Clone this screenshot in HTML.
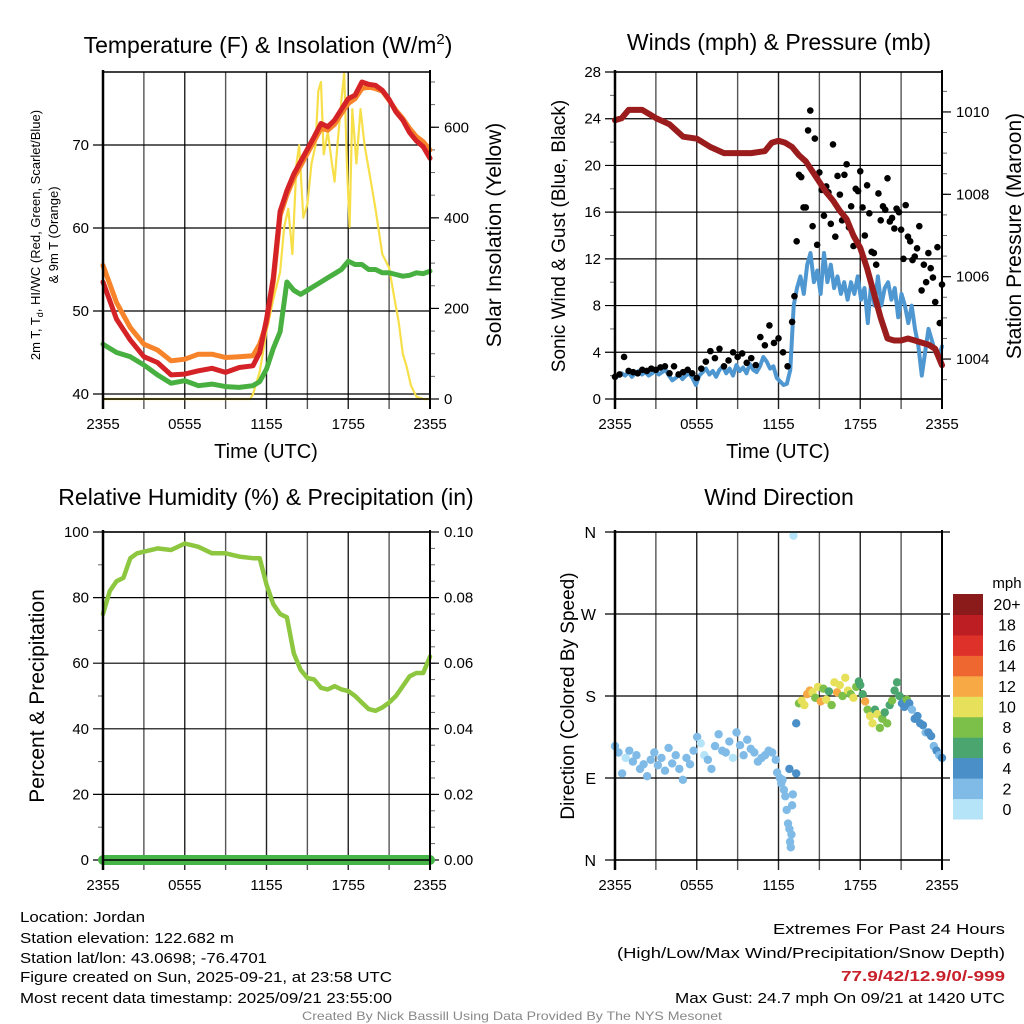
<!DOCTYPE html>
<html><head><meta charset="utf-8"><style>
html,body{margin:0;padding:0;background:#fff;}
svg{display:block;font-family:"Liberation Sans",sans-serif;}
</style></head><body>
<svg id="fig" width="1024" height="1024" viewBox="0 0 1024 1024" xmlns="http://www.w3.org/2000/svg"></svg>
<script>
// ---------- data ----------
const timeLabels = ["2355","0555","1155","1755","2355"];
const tempRedT = [0,1,2,3,4,5,6,7,8,9,10,11,11.5,12,12.5,13,13.5,14,14.5,15,15.5,16,16.5,17,17.5,18,18.5,19,19.5,20,20.5,21,21.5,22,22.5,23,23.5,24];
const tempRed = [53.5,49,46.5,44.5,43.8,42.3,42.4,42.8,43.1,42.6,43.2,43.4,45,49,54,62,64.5,66.5,68,69.5,71,72.6,72.2,73,74.3,75.6,76,77.6,77.3,77.2,76.6,75.5,74,73,71.5,70.5,69.8,68.4];
const tempOrange = [55.5,51,48,46,45.3,44,44.2,44.8,44.8,44.4,44.5,44.6,46,48.5,53.5,61.5,64,66,67.5,69,70.5,72,71.8,72.5,73.8,75,75.6,76.8,77,76.8,76.5,75.4,74.2,73.2,72,71,70.4,69.4];
const tempGreen = [46,45,44.5,43.5,42.3,41.3,41.6,41,41.2,40.9,40.8,41,41.5,43,45.5,47.5,53.5,52.5,52,52.5,53,53.5,54,54.5,55,56,55.6,55.6,55,55,54.6,54.6,54.4,54.2,54.3,54.6,54.5,54.8];
const solarT = [0,10.8,11,11.5,12,12.5,13,13.3,13.6,13.9,14.2,14.4,14.7,15,15.3,15.6,15.8,16,16.2,16.5,16.8,17,17.2,17.5,17.7,17.9,18.1,18.3,18.6,18.9,19.2,19.6,20,20.5,21,21.4,21.7,22,22.3,22.6,23,23.5,24];
const solar = [0,0,10,60,150,220,280,380,420,320,520,560,400,430,520,560,680,700,540,590,520,480,560,660,720,520,380,640,520,640,560,490,420,320,290,220,170,100,70,30,5,0,0];
const windSpeed = [1.8,2.0,2.2,2.0,2.3,1.9,2.2,2.4,2.1,2.3,2.0,2.2,2.4,2.1,2.3,2.5,2.0,1.6,1.8,2.1,1.7,2.0,2.2,1.8,1.2,2.0,2.3,2.6,2.1,2.4,1.9,2.5,2.8,2.2,2.6,2.0,2.9,2.4,2.7,2.2,3.0,2.5,2.3,2.8,3.6,3.2,2.6,2.8,1.8,1.5,1.2,1.3,2.5,8,9.5,10.5,9,11.5,12.5,10,11,9,12.5,10,11.5,9.5,10.5,9,10,8.5,10,9,10.5,8.5,9.5,6.5,10,8,10.5,8,9.5,10,8.5,9.5,7,9,8,6.5,8,6,4.5,2,4,6,5,4,3.5,4.5];
const gustA = [1.9,2.1,3.6,2.4,2.3,2.2,2.5,2.4,2.6,2.5,2.7,2.8,2.2,2.8,2.1,2.3,2.5,2.2,1.8,2.6,3.2,4.1,3.5,4.3,2.8,3.3,4.0,3.6,3.9,3.1,3.5,2.9,5.3,4.6,6.3,4.8,5.2,4.0,2.8,6.6,13.5,19,16.4,24.7,22.3,19.4,15.7,17.7,21.8,19.1,15.3,20.1,16.5,18.0,19.5,14.0,15.9,12.5,17.6,16.5,18.9,15.5,16.3,14.5,16.6,13.5,12.2,14.8,11.5,12.5,10.4,13.0,9.8];
const gustB = [8.8,19.2,16.4,23.0,14.8,13.2,17.9,18.2,15.0,13.9,17.5,19.2,14.7,13.1,17.8,16.4,18.3,12.6,11.5,15.3,16.2,15.2,14.6,16.0,12.0,13.9,11.9,12.9,9.3,10.0,11.2,8.3,6.5];
const presT = [0,0.5,1,2,3,4,5,6,7,8,9,10,11,11.5,12,12.5,13,13.5,14,14.5,15,15.5,16,16.5,17,17.5,18,18.5,19,19.5,20,20.5,21,21.5,22,22.5,23,23.5,24];
const pressure = [1009.8,1009.85,1010.05,1010.05,1009.85,1009.7,1009.4,1009.35,1009.15,1009.0,1009.0,1009.0,1009.05,1009.25,1009.3,1009.25,1009.15,1008.95,1008.8,1008.55,1008.3,1008.05,1007.85,1007.6,1007.4,1007.0,1006.7,1006.2,1005.6,1005.0,1004.5,1004.45,1004.45,1004.5,1004.45,1004.4,1004.35,1004.25,1003.85];
const rhT = [0,0.5,1,1.5,2,2.5,3,4,5,6,7,8,9,10,11,11.5,12,12.5,13,13.5,14,14.5,15,15.5,16,16.5,17,17.5,18,18.5,19,19.5,20,20.5,21,21.5,22,22.5,23,23.5,24];
const rh = [75,82,85,86,92,93.5,94,95,94.5,96.5,95.5,93.5,93.5,92.5,92,92,84,78,75,74,63,58,55.5,55,52.5,52,53,52,51.5,50,48,46,45.5,46.5,48,50,53,56,57,57,62];
const precip = [0,0,0,0,0,0,0,0,0,0,0,0,0,0,0,0,0,0,0,0,0,0,0,0,0];
const wdTime = [];
const wdDir = [125,118,95,112,120,108,115,100,105,92,110,118,104,112,98,123,106,115,100,88,112,105,120,135,128,115,110,100,125,138,120,118,130,112,140,126,115,132,122,118,108,112,115,120,118,110,
96,90,84,88,77,70,55,40,34,20,14,28,60,72,356,150,95,100,
172,175,170,182,186,184,178,190,174,188,176,185,170,195,184,192,180,200,186,182,178,190,196,
192,182,174,165,158,150,165,160,145,155,162,150,170,175,186,195,180,172,168,176,
172,165,155,158,150,148,140,140,136,125,120,115,112];
const wdSpd = [2,2,2,1,2,2,2,2,2,2,2,2,2,2,2,2,2,2,2,2,2,2,2,2,1,1,2,2,2,2,2,2,2,1,2,2,2,2,2,2,2,2,2,2,2,2,
2,2,2,2,2,2,2,2,2,2,2,2,2,3,0,4,4,4,
8,10,10,12,12,11,9,10,12,8,10,6,8,11,12,10,9,10,11,8,10,9,7,
6,7,12,9,10,10,6,11,8,9,7,8,6,8,6,7,6,5,4,8,
4,3,5,4,4,5,3,4,4,3,4,3,4];
for(let i=0;i<46;i++) wdTime.push(i*11.8/45);
[11.9,12.1,12.2,12.3,12.4,12.5,12.6,12.7,12.8,12.85,12.9,12.95,13.0,13.05,13.1,13.3,13.3,12.8].forEach(t=>wdTime.push(t));
for(let i=0;i<23;i++) wdTime.push(13.5+i*0.2);
for(let i=0;i<20;i++) wdTime.push(18.0+i*0.18);
[21.6,21.8,22.0,22.2,22.4,22.6,22.8,23.0,23.2,23.4,23.6,23.8,24].forEach(t=>wdTime.push(t));
const cbLabels = ["0","2","4","6","8","10","12","14","16","18","20+"];
const cbColors = ["#b5e3f7","#7fbbe6","#4a8fc7","#4aa56e","#7cc04a","#e6e05a","#f6a945","#ee6630","#dd3129","#bd1e24","#8b1a1a"];

// ---------- helpers ----------
const NS="http://www.w3.org/2000/svg";
const svg=document.getElementById('fig');
function mk(tag,attrs,parent,text){const e=document.createElementNS(NS,tag);for(const k in attrs)e.setAttribute(k,attrs[k]);if(text!==undefined)e.textContent=text;(parent||svg).appendChild(e);return e;}
function grp(name){const g=mk('g',{});return g;}
function txt(g,x,y,s,size,anchor,extra){const a=Object.assign({x:x,y:y,'font-size':size,'text-anchor':anchor||'middle',fill:'#000'},extra||{});return mk('text',a,g,s);}
const L1=103,R1=430,L2=615,R2=942,T1=72,B1=399,T2=532,B2=860;
function xs(L,R){return t=>L+t*(R-L)/24;}
function ys(T,B,lo,hi){return v=>B-(v-lo)*(B-T)/(hi-lo);}
function frame(g,L,R,T,B){
  for(let i=0;i<=8;i++){const x=L+i*(R-L)/8;mk('line',{x1:x,y1:T,x2:x,y2:B+10,stroke:i%2?'#555':'#222','stroke-width':1.4},g);}
  timeLabels.forEach((s,i)=>{const t=txt(g,L+i*(R-L)/4,B+30,s,15);});
}
function box(g,L,R,T,B){mk('rect',{x:L,y:T,width:R-L,height:B-T,fill:'none',stroke:'#000','stroke-width':1.5},g);mk('line',{x1:L,y1:T-2,x2:L,y2:B+10,stroke:'#000','stroke-width':2.5},g);mk('line',{x1:R,y1:T-2,x2:R,y2:B+10,stroke:'#000','stroke-width':2},g);}
function leftTicks(g,L,R,y,vals,fmt){vals.forEach(v=>{const yy=y(v);mk('line',{x1:L-10,y1:yy,x2:R,y2:yy,stroke:'#000','stroke-width':1.2},g);const t=txt(g,L-14,yy+5,fmt?fmt(v):String(v),15,'end');});}
function rightTicks(g,R,y,vals,minor,fmt){minor.forEach(v=>{mk('line',{x1:R,y1:y(v),x2:R+5,y2:y(v),stroke:'#666','stroke-width':1},g);});vals.forEach(v=>{mk('line',{x1:R,y1:y(v),x2:R+9,y2:y(v),stroke:'#000','stroke-width':1.2},g);const t=txt(g,R+14,y(v)+5,fmt?fmt(v):String(v),15,'start');});}
function path(g,X,Y,ts,vs,color,w,name){let d='';ts.forEach((t,i)=>{d+=(i?'L':'M')+X(t).toFixed(1)+','+Y(vs[i]).toFixed(1);});const p=mk('path',{d:d,fill:'none',stroke:color,'stroke-width':w,'stroke-linejoin':'round','stroke-linecap':'round'},g);return p;}
function vlabel(g,x,y,s,size,name){const t=txt(g,x,y,s,size,'middle',{transform:`rotate(-90 ${x} ${y})`});return t;}
function title(g,x,y,s){const t=txt(g,x,y,s,23);return t;}
function range(a,b,s){const r=[];for(let v=a;v<=b+1e-9;v+=s)r.push(+v.toFixed(4));return r;}

// ---------- panel 1: temperature ----------
(function(){
  const g=grp('temperature-panel');
  const X=xs(L1,R1),Y=ys(T1,B1,39.4,78.8),Ys=ys(T1,B1,0,722);
  frame(g,L1,R1,T1,B1);
  leftTicks(g,L1,R1,Y,[40,50,60,70]);
  mk('line',{x1:L1,y1:B1,x2:R1,y2:B1,stroke:'#000','stroke-width':1.2},g);
  rightTicks(g,R1,Ys,[0,200,400,600],range(50,700,50));
  const tt=mk('text',{x:268,y:53,'font-size':23,'text-anchor':'middle'},g);
  tt.innerHTML='Temperature (F) &amp; Insolation (W/m<tspan dy="-9" font-size="15">2</tspan><tspan dy="9">)</tspan>';
  path(g,X,Ys,solarT,solar,'#f7df4a',2.2,'solar-insolation-line');
  path(g,X,Y,tempRedT,tempGreen,'#48b040',5,'dewpoint-line');
  path(g,X,Y,tempRedT,tempOrange,'#f7832a',5,'temp-9m-line');
  path(g,X,Y,tempRedT,tempRed,'#d42227',5,'temp-2m-line');
  box(g,L1,R1,T1,B1);
  const yl=mk('text',{x:0,y:0,'font-size':13,'text-anchor':'middle',transform:'translate(40 235) rotate(-90)'},g);
  
  yl.innerHTML='2m T, T<tspan dy="3" font-size="9">d</tspan><tspan dy="-3">, HI/WC (Red, Green, Scarlet/Blue)</tspan>';
  vlabel(g,58,235,'& 9m T (Orange)',13,'y-axis-title-line2');
  vlabel(g,501,235,'Solar Insolation (Yellow)',21,'y2-axis-title');
  const xt=txt(g,266,458,'Time (UTC)',20);
})();

// ---------- panel 2: wind & pressure ----------
(function(){
  const g=grp('wind-pressure-panel');
  const X=xs(L2,R2),Y=ys(T1,B1,0,28),Yp=ys(T1,B1,1003.03,1010.97);
  frame(g,L2,R2,T1,B1);
  leftTicks(g,L2,R2,Y,[0,4,8,12,16,20,24,28]);
  range(2,26,4).forEach(v=>mk('line',{x1:L2-5,y1:Y(v),x2:L2,y2:Y(v),stroke:'#666'},g));
  rightTicks(g,R2,Yp,[1004,1006,1008,1010],range(1003.5,1010.5,0.5));
  title(g,779,50,'Winds (mph) & Pressure (mb)');
  path(g,X,Y,windSpeed.map((v,i)=>i*24/(windSpeed.length-1)),windSpeed,'#4f97d0',4,'sonic-wind-line');
  gustA.forEach((v,i)=>{const c=mk('circle',{cx:X(i*24/(gustA.length-1)),cy:Y(v),r:3.3,fill:'#000'},g);});
  gustB.forEach((v,i)=>{const c=mk('circle',{cx:X(13.17+i/3),cy:Y(v),r:3.3,fill:'#000'},g);});
  path(g,X,Yp,presT,pressure,'#9b1c1c',6,'pressure-line');
  box(g,L2,R2,T1,B1);
  vlabel(g,565,236,'Sonic Wind & Gust (Blue, Black)',19,'y-axis-title');
  vlabel(g,1021,236,'Station Pressure (Maroon)',21,'y2-axis-title');
  const xt=txt(g,778,458,'Time (UTC)',20);
})();

// ---------- panel 3: RH & precip ----------
(function(){
  const g=grp('humidity-precip-panel');
  const X=xs(L1,R1),Y=ys(T2,B2,0,100),Yp=ys(T2,B2,0,0.1);
  frame(g,L1,R1,T2,B2);
  leftTicks(g,L1,R1,Y,[0,20,40,60,80,100]);
  range(10,90,20).forEach(v=>mk('line',{x1:L1-5,y1:Y(v),x2:L1,y2:Y(v),stroke:'#666'},g));
  rightTicks(g,R1,Yp,[0,0.02,0.04,0.06,0.08,0.1],range(0.005,0.095,0.005),v=>v.toFixed(2));
  title(g,266,505,'Relative Humidity (%) & Precipitation (in)');
  path(g,X,Y,rhT,rh,'#8dc63f',4.5,'humidity-line');
  path(g,X,Yp,precip.map((v,i)=>i),precip,'#46b548',10,'precipitation-line');
  box(g,L1,R1,T2,B2);
  vlabel(g,44,696,'Percent & Precipitation',21,'y-axis-title');
})();

// ---------- panel 4: wind direction ----------
(function(){
  const g=grp('wind-direction-panel');
  const X=xs(L2,R2),Y=ys(T2,B2,0,360);
  frame(g,L2,R2,T2,B2);
  const dl=['N','E','S','W','N'];
  [0,90,180,270,360].forEach((v,i)=>{mk('line',{x1:L2-10,y1:Y(v),x2:R2+8,y2:Y(v),stroke:'#000','stroke-width':1.2},g);const t=txt(g,L2-19,Y(v)+6,dl[i],16,'end');});
  title(g,779,505,'Wind Direction');
  const colOf=s=>cbColors[Math.min(10,Math.floor(s/2))];
  wdDir.forEach((d,i)=>{const c=mk('circle',{cx:X(wdTime[i]),cy:Y(d),r:4.2,fill:colOf(wdSpd[i])},g);});
  box(g,L2,R2,T2,B2);
  vlabel(g,574,696,'Direction (Colored By Speed)',19,'y-axis-title');
  const cb=grp('speed-colorbar');
  const h=(819-594)/11;
  cbColors.forEach((c,i)=>{const r=mk('rect',{x:953,y:819-(i+1)*h,width:30,height:h+0.5,fill:c},cb);
    const t=txt(cb,1007,819-i*h-h/2+6,cbLabels[i],16);});
  const u=txt(cb,1007,588,'mph',15);
})();

// ---------- footer ----------
(function(){
  const g=grp('footer-info');
  const lines=[['Location: Jordan',125],['Station elevation: 122.682 m',214],['Station lat/lon: 43.0698; -76.4701',247],['Figure created on Sun, 2025-09-21, at 23:58 UTC',372],['Most recent data timestamp: 2025/09/21 23:55:00',372]];
  lines.forEach((l,i)=>{const t=txt(g,20,[922,943,963,982,1003][i],l[0],15,'start',{textLength:l[1],lengthAdjust:'spacingAndGlyphs'});});
  const r=[['Extremes For Past 24 Hours',934,232,'#000','normal'],['(High/Low/Max Wind/Precipitation/Snow Depth)',958,388,'#000','normal'],['77.9/42/12.9/0/-999',981,164,'#c8202a','bold'],['Max Gust: 24.7 mph On 09/21 at 1420 UTC',1003,330,'#000','normal']];
  r.forEach(l=>{const t=txt(g,1005,l[1],l[0],15,'end',{textLength:l[2],lengthAdjust:'spacingAndGlyphs',fill:l[3],'font-weight':l[4]});});
  const c=txt(g,512,1020,'Created By Nick Bassill Using Data Provided By The NYS Mesonet',12,'middle',{fill:'#888',textLength:420,lengthAdjust:'spacingAndGlyphs'});
  
})();
</script>
</body></html>
